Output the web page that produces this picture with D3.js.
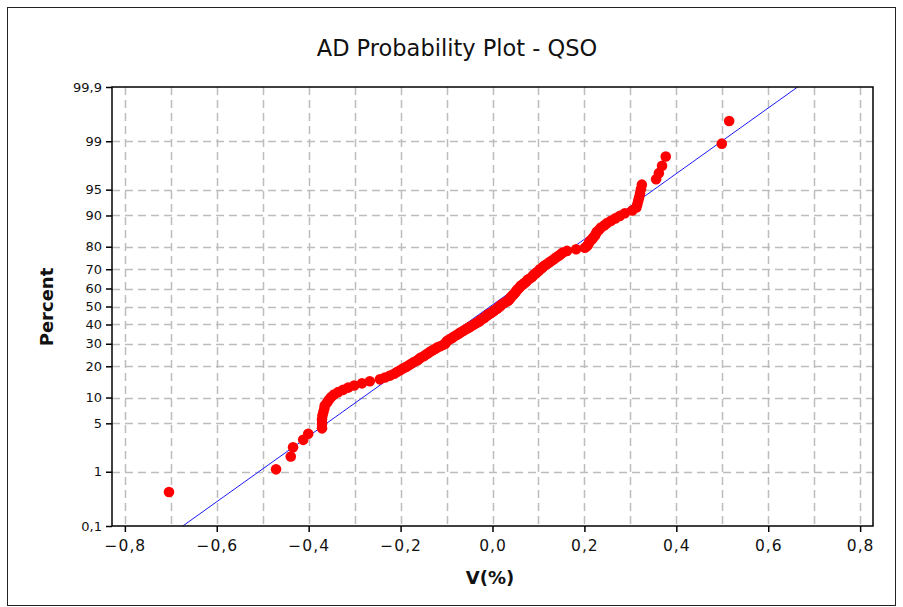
<!DOCTYPE html>
<html>
<head>
<meta charset="utf-8">
<script src="https://cdn.jsdelivr.net/npm/d3@7"></script>
<style>
  html, body { margin: 0; padding: 0; background: #fff; }
  svg { display: block; }
</style>
</head>
<body>
<svg id="chart" width="903" height="607"></svg>
<script>
// Sorted V(%) observations, smallest first (155 values)
const vValues = [
  -0.704, -0.471, -0.439, -0.434, -0.412, -0.401, -0.371, -0.371, -0.371, -0.370,
  -0.368, -0.366, -0.365, -0.360, -0.356, -0.351, -0.345, -0.336, -0.325, -0.314,
  -0.301, -0.284, -0.267, -0.245, -0.234, -0.223, -0.214, -0.208, -0.201, -0.195,
  -0.188, -0.182, -0.177, -0.171, -0.164, -0.160, -0.156, -0.149, -0.145, -0.140,
  -0.136, -0.131, -0.125, -0.121, -0.114, -0.108, -0.103, -0.101, -0.099, -0.095,
  -0.090, -0.086, -0.082, -0.077, -0.073, -0.069, -0.064, -0.060, -0.055, -0.051,
  -0.047, -0.042, -0.038, -0.034, -0.029, -0.027, -0.023, -0.018, -0.016, -0.012,
  -0.010, -0.005, -0.001, 0.003, 0.005, 0.010, 0.012, 0.016, 0.018, 0.021,
  0.025, 0.029, 0.034, 0.036, 0.038, 0.040, 0.042, 0.045, 0.047, 0.049,
  0.051, 0.053, 0.055, 0.058, 0.060, 0.062, 0.066, 0.069, 0.073, 0.075,
  0.077, 0.082, 0.086, 0.088, 0.090, 0.095, 0.097, 0.101, 0.103, 0.108,
  0.110, 0.114, 0.119, 0.123, 0.127, 0.132, 0.136, 0.140, 0.145, 0.149,
  0.153, 0.162, 0.182, 0.201, 0.206, 0.208, 0.210, 0.212, 0.217, 0.219,
  0.223, 0.225, 0.227, 0.232, 0.236, 0.243, 0.249, 0.258, 0.267, 0.277,
  0.288, 0.304, 0.313, 0.315, 0.317, 0.319, 0.321, 0.323, 0.325, 0.356,
  0.362, 0.369, 0.377, 0.499, 0.515
];

// Fitted normal distribution (mean, standard deviation)
const fitMean = -0.005;
const fitSigma = 0.2165;

// Axis ticks
const percentTicks = [0.1, 1, 5, 10, 20, 30, 40, 50, 60, 70, 80, 90, 95, 99, 99.9];
const percentGrid = [1, 5, 10, 20, 30, 40, 50, 60, 70, 80, 90, 95, 99];
const vTicks = [-0.8, -0.6, -0.4, -0.2, 0.0, 0.2, 0.4, 0.6, 0.8];
const vGrid = [-0.8, -0.7, -0.6, -0.5, -0.4, -0.3, -0.2, -0.1, 0.0, 0.1, 0.2, 0.3, 0.4, 0.5, 0.6, 0.7, 0.8];

const titleText = "AD Probability Plot - QSO";
const xTitle = "V(%)";
const yTitle = "Percent";

// Inverse of the standard normal CDF (Acklam's rational approximation)
function probit(p) {
  const a = [-3.969683028665376e+01, 2.209460984245205e+02, -2.759285104469687e+02,
             1.383577518672690e+02, -3.066479806614716e+01, 2.506628277459239e+00];
  const b = [-5.447609879822406e+01, 1.615858368580409e+02, -1.556989798598866e+02,
             6.680131188771972e+01, -1.328068155288572e+01];
  const c = [-7.784894002430293e-03, -3.223964580411365e-01, -2.400758277161838e+00,
             -2.549671010229420e+00, 4.374664141464968e+00, 2.938163982698783e+00];
  const d = [7.784695709041462e-03, 3.224671290700398e-01, 2.445134137142996e+00,
             3.754408661907416e+00];
  const pl = 0.02425, ph = 1 - pl;
  let q, r;
  if (p < pl) {
    q = Math.sqrt(-2 * Math.log(p));
    return (((((c[0]*q+c[1])*q+c[2])*q+c[3])*q+c[4])*q+c[5]) /
           ((((d[0]*q+d[1])*q+d[2])*q+d[3])*q+1);
  }
  if (p <= ph) {
    q = p - 0.5; r = q * q;
    return (((((a[0]*r+a[1])*r+a[2])*r+a[3])*r+a[4])*r+a[5])*q /
           (((((b[0]*r+b[1])*r+b[2])*r+b[3])*r+b[4])*r+1);
  }
  q = Math.sqrt(-2 * Math.log(1 - p));
  return -(((((c[0]*q+c[1])*q+c[2])*q+c[3])*q+c[4])*q+c[5]) /
          ((((d[0]*q+d[1])*q+d[2])*q+d[3])*q+1);
}

const svg = d3.select("#chart");
const W = 903, H = 607;
const plot = { left: 112, right: 873, top: 87, bottom: 526 };
const font = "'DejaVu Sans', Verdana, sans-serif";

const fmt = d3.formatLocale({ decimal: ",", thousands: ".", grouping: [3], currency: ["", ""], minus: "\u2212" });

const x = d3.scaleLinear().domain([-0.828, 0.828]).range([plot.left, plot.right]);
const zMax = probit(0.999);
const yz = d3.scaleLinear().domain([-zMax, zMax]).range([plot.bottom, plot.top]);
const yPct = pct => yz(probit(pct / 100));

// outer frame
svg.append("rect")
  .attr("x", 7.5).attr("y", 7.5).attr("width", W - 15).attr("height", H - 9)
  .attr("fill", "#fff").attr("stroke", "#222").attr("stroke-width", 1);

// title
svg.append("text")
  .attr("x", 457).attr("y", 56)
  .attr("text-anchor", "middle")
  .attr("font-family", font)
  .attr("font-size", 22.5)
  .attr("fill", "#111")
  .text(titleText);

// grid
const grid = svg.append("g")
  .attr("stroke", "#bdbdbd").attr("stroke-width", 1.5).attr("stroke-dasharray", "8,5");
grid.selectAll("line.v").data(vGrid).join("line")
  .attr("class", "v")
  .attr("x1", d => Math.round(x(d)) + 0.5).attr("x2", d => Math.round(x(d)) + 0.5)
  .attr("y1", plot.top).attr("y2", plot.bottom);
grid.selectAll("line.h").data(percentGrid).join("line")
  .attr("class", "h")
  .attr("x1", plot.left).attr("x2", plot.right)
  .attr("y1", d => Math.round(yPct(d)) + 0.5).attr("y2", d => Math.round(yPct(d)) + 0.5);

// fitted line, clipped to plot area
svg.append("clipPath").attr("id", "plotClip")
  .append("rect").attr("x", plot.left).attr("y", plot.top)
  .attr("width", plot.right - plot.left).attr("height", plot.bottom - plot.top);

const fitZ = [-zMax, zMax];
svg.append("path")
  .attr("clip-path", "url(#plotClip)")
  .datum(fitZ)
  .attr("fill", "none").attr("stroke", "#1a1aff").attr("stroke-width", 1)
  .attr("d", d3.line().x(z => x(fitMean + fitSigma * z)).y(z => yz(z)));

// observations at median-rank plotting positions
const n = vValues.length;
const pts = vValues.map((v, i) => ({ v, p: (i + 1 - 0.3) / (n + 0.4) }));
svg.append("g").attr("clip-path", "url(#plotClip)")
  .selectAll("circle").data(pts).join("circle")
  .attr("cx", d => x(d.v))
  .attr("cy", d => yz(probit(d.p)))
  .attr("r", 5.3)
  .attr("fill", "#ff0000");

// plot frame
svg.append("rect")
  .attr("x", plot.left).attr("y", plot.top)
  .attr("width", plot.right - plot.left).attr("height", plot.bottom - plot.top)
  .attr("fill", "none").attr("stroke", "#000").attr("stroke-width", 1.5);

// y axis
const yAxis = d3.axisLeft(yz)
  .tickValues(percentTicks.map(p => probit(p / 100)))
  .tickFormat((z, i) => fmt.format("~g")(percentTicks[i]))
  .tickSize(6).tickPadding(4);
const gy = svg.append("g").attr("transform", `translate(${plot.left},0)`).call(yAxis);
gy.select(".domain").remove();
gy.selectAll(".tick line").attr("stroke", "#000").attr("stroke-width", 1.5);
gy.selectAll(".tick text")
  .attr("font-family", font)
  .attr("font-size", 13).attr("fill", "#111");

// x axis
const xAxis = d3.axisBottom(x)
  .tickValues(vTicks)
  .tickFormat(fmt.format(".1f"))
  .tickSize(6).tickPadding(8);
const gx = svg.append("g").attr("transform", `translate(0,${plot.bottom})`).call(xAxis);
gx.select(".domain").remove();
gx.selectAll(".tick line").attr("stroke", "#000").attr("stroke-width", 1.5);
gx.selectAll(".tick text")
  .attr("font-family", font)
  .attr("font-size", 15.5).attr("letter-spacing", 1).attr("fill", "#111");

// axis titles
svg.append("text")
  .attr("x", 490).attr("y", 584)
  .attr("text-anchor", "middle")
  .attr("font-family", font)
  .attr("font-size", 18).attr("font-weight", "bold").attr("fill", "#111")
  .text(xTitle);

svg.append("text")
  .attr("transform", "translate(53,307) rotate(-90)")
  .attr("text-anchor", "middle")
  .attr("font-family", font)
  .attr("font-size", 18).attr("font-weight", "bold").attr("fill", "#111")
  .text(yTitle);
</script>
</body>
</html>
